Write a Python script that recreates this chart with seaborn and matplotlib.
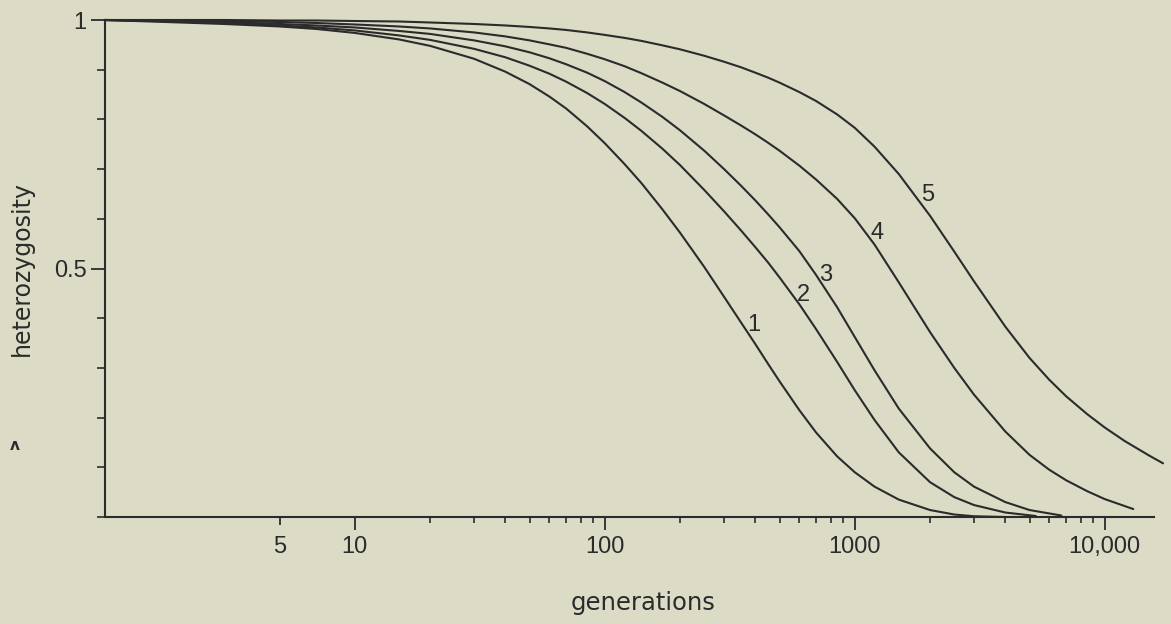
import numpy as np
import pandas as pd
import matplotlib
matplotlib.use("Agg")
import matplotlib.pyplot as plt
import seaborn as sns

# ---- data (generations, heterozygosity) ----
c1_x = [1, 2, 3, 5, 7, 10, 15, 20, 30, 40, 50, 60, 70, 85, 100, 120, 140, 170, 200, 250, 300, 350, 400, 450, 500, 600, 700, 850, 1000, 1200, 1500, 2000, 2500, 3000, 4000]
c1_y = [1.0, 0.995, 0.992, 0.987, 0.982, 0.974, 0.961, 0.948, 0.922, 0.896, 0.871, 0.846, 0.822, 0.786, 0.752, 0.71, 0.672, 0.619, 0.572, 0.503, 0.443, 0.392, 0.348, 0.308, 0.273, 0.215, 0.17, 0.122, 0.09, 0.061, 0.035, 0.014, 0.005, 0.0015, 0.0]

c2_x = [1, 2, 3, 5, 7, 10, 15, 20, 30, 40, 50, 60, 70, 85, 100, 120, 140, 170, 200, 250, 300, 350, 400, 450, 500, 600, 700, 850, 1000, 1200, 1500, 2000, 2500, 3000, 4000, 5300]
c2_y = [1.0, 0.997, 0.994, 0.989, 0.985, 0.979, 0.969, 0.96, 0.942, 0.925, 0.908, 0.892, 0.876, 0.853, 0.831, 0.803, 0.777, 0.741, 0.708, 0.658, 0.615, 0.577, 0.543, 0.512, 0.482, 0.428, 0.378, 0.312, 0.255, 0.195, 0.13, 0.07, 0.04, 0.024, 0.009, 0.002]

c3_x = [1, 2, 3, 5, 7, 10, 15, 20, 30, 40, 50, 60, 70, 85, 100, 120, 140, 170, 200, 250, 300, 350, 400, 450, 500, 600, 700, 850, 1000, 1200, 1500, 2000, 2500, 3000, 4000, 5000, 6700]
c3_y = [1.0, 0.998, 0.996, 0.992, 0.989, 0.985, 0.978, 0.972, 0.959, 0.947, 0.935, 0.923, 0.911, 0.894, 0.877, 0.855, 0.834, 0.805, 0.778, 0.737, 0.7, 0.667, 0.637, 0.609, 0.583, 0.535, 0.487, 0.422, 0.362, 0.295, 0.218, 0.138, 0.09, 0.061, 0.03, 0.014, 0.003]

c4_x = [1, 2, 3, 5, 7, 10, 15, 20, 30, 40, 50, 60, 70, 85, 100, 120, 140, 170, 200, 250, 300, 350, 400, 450, 500, 600, 700, 850, 1000, 1200, 1500, 2000, 2500, 3000, 4000, 5000, 6000, 7000, 8500, 10000, 13000]
c4_y = [1.0, 0.999, 0.998, 0.996, 0.994, 0.991, 0.987, 0.983, 0.975, 0.967, 0.959, 0.951, 0.944, 0.932, 0.921, 0.907, 0.893, 0.874, 0.857, 0.831, 0.808, 0.788, 0.77, 0.753, 0.737, 0.707, 0.679, 0.64, 0.601, 0.548, 0.472, 0.372, 0.3, 0.246, 0.172, 0.125, 0.095, 0.074, 0.052, 0.036, 0.016]

c5_x = [1, 2, 3, 5, 7, 10, 15, 20, 30, 40, 50, 60, 70, 85, 100, 120, 140, 170, 200, 250, 300, 350, 400, 450, 500, 600, 700, 850, 1000, 1200, 1500, 2000, 2500, 3000, 4000, 5000, 6000, 7000, 8500, 10000, 12000, 15000, 17100]
c5_y = [1.0, 1.0, 1.0, 0.999, 0.999, 0.998, 0.997, 0.995, 0.992, 0.989, 0.986, 0.983, 0.98, 0.975, 0.97, 0.964, 0.958, 0.949, 0.941, 0.928, 0.916, 0.905, 0.894, 0.884, 0.874, 0.855, 0.837, 0.81, 0.783, 0.745, 0.69, 0.606, 0.534, 0.474, 0.383, 0.32, 0.276, 0.243, 0.207, 0.18, 0.153, 0.124, 0.108]

curve_names = ["1", "2", "3", "4", "5"]
label_x = [395, 621, 767, 1224, 1959]
label_y = [0.386, 0.447, 0.487, 0.571, 0.648]

x_major = [5, 10, 100, 1000, 10000]
x_major_labels = ["5", "10", "100", "1000", "10,000"]
x_minor = [20, 30, 40, 50, 60, 70, 80, 90,
           200, 300, 400, 500, 600, 700, 800, 900,
           2000, 3000, 4000, 5000, 6000, 7000, 8000, 9000]
y_major = [0.5, 1.0]
y_major_labels = ["0.5", "1"]
y_minor = [0.0, 0.1, 0.2, 0.3, 0.4, 0.6, 0.7, 0.8, 0.9]

# ---- build long table ----
frames = []
for name, xs, ys in zip(curve_names,
                        [c1_x, c2_x, c3_x, c4_x, c5_x],
                        [c1_y, c2_y, c3_y, c4_y, c5_y]):
    frames.append(pd.DataFrame({"generations": xs, "heterozygosity": ys, "curve": name}))
df = pd.concat(frames, ignore_index=True)

BG = "#dcdbc6"
INK = "#2b2b2b"

sns.set_theme(style="ticks")
plt.rcParams.update({
    "figure.facecolor": BG,
    "axes.facecolor": BG,
    "savefig.facecolor": BG,
    "axes.edgecolor": INK,
    "xtick.color": INK,
    "ytick.color": INK,
    "text.color": INK,
    "axes.labelcolor": INK,
    "lines.solid_joinstyle": "round",
})
plt.rcParams["font.family"] = ["Liberation Sans", "DejaVu Sans"]

fig = plt.figure(figsize=(11.71, 6.24), dpi=100)
W, H = 1171, 624
x0_px, y0_px, ytop_px = 104.8, 517, 20
xmax = 18000
px_per_dec = 250
ax_w = px_per_dec * np.log10(xmax)
ax = fig.add_axes([x0_px / W, (H - y0_px) / H, ax_w / W, (y0_px - ytop_px) / H])

sns.lineplot(data=df, x="generations", y="heterozygosity", hue="curve",
             units="curve", estimator=None, sort=False,
             palette=[INK] * 5, legend=False, linewidth=1.5, ax=ax)
for ln in ax.get_lines():
    ln.set_clip_on(False)

ax.set_xscale("log")
ax.set_xlim(1, xmax)
ax.set_ylim(0, 1)

for s in ["top", "right"]:
    ax.spines[s].set_visible(False)
ax.spines["bottom"].set_bounds(1, 15800)
ax.spines["left"].set_bounds(0, 1)
ax.spines["bottom"].set_linewidth(1.5)
ax.spines["left"].set_linewidth(1.5)

ax.set_xticks(x_major)
ax.set_xticklabels(x_major_labels)
ax.set_xticks(x_minor, minor=True)
ax.xaxis.set_minor_formatter(matplotlib.ticker.NullFormatter())
ax.tick_params(axis="x", which="major", length=9, width=1.3, labelsize=17, pad=5)
ax.tick_params(axis="x", which="minor", length=4.3, width=1.2)
ax.xaxis.get_major_ticks()[0].tick1line.set_markersize(6)

ax.set_yticks(y_major)
ax.set_yticklabels(y_major_labels)
ax.set_yticks(y_minor, minor=True)
ax.yaxis.set_minor_formatter(matplotlib.ticker.NullFormatter())
ax.tick_params(axis="y", which="major", length=10, width=1.3, labelsize=17, pad=3)
ax.tick_params(axis="y", which="minor", length=5.8, width=1.2)

ax.set_xlabel("generations", fontsize=17.5, family=["DejaVu Sans"])
ax.set_ylabel("heterozygosity", fontsize=17, family=["DejaVu Sans"])
ax.xaxis.set_label_coords((643 - x0_px) / ax_w, (y0_px - 603) / (y0_px - ytop_px))
ax.xaxis.label.set_va("center")
ax.yaxis.set_label_coords((22 - x0_px) / ax_w, (y0_px - 268) / (y0_px - ytop_px))
ax.yaxis.label.set_va("center")

for name, lx, ly in zip(curve_names, label_x, label_y):
    ax.text(lx, ly, name, fontsize=17, ha="center", va="center", color=INK)

fig.text(15 / W, 1 - 446 / H, "ʌ", fontsize=11, ha="center", va="center",
         family=["DejaVu Sans"], color=INK, fontweight="bold")

fig.savefig("out.png", dpi=100, facecolor=BG)
